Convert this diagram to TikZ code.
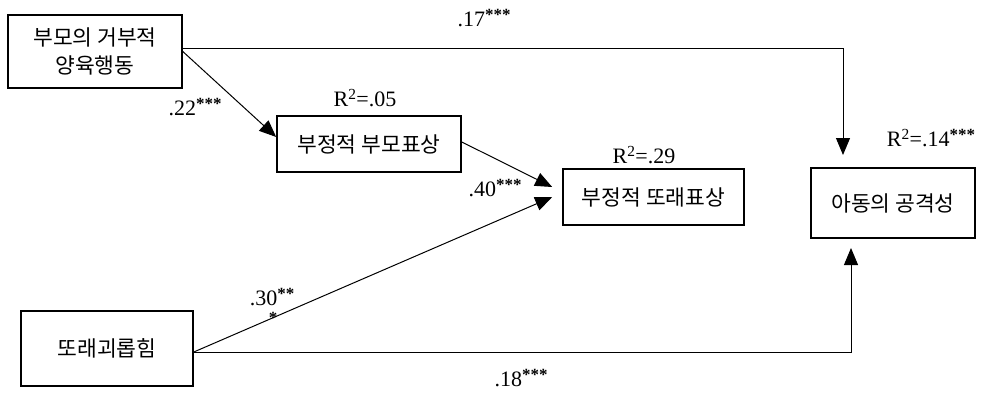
\documentclass[tikz,border=0pt]{standalone}
\usepackage{fontspec}
\setmainfont{Liberation Serif}
\newfontfamily\krfont{Noto Sans CJK KR}
\usetikzlibrary{arrows.meta}
\newcommand{\sig}[1]{\raisebox{0.6ex}{\fontsize{17}{17}\selectfont\bfseries #1}}

\begin{document}
\begin{tikzpicture}[x=1pt, y=-1pt,
            var/.style ={rectangle, draw=black, line width=1.6pt, inner sep=0pt, align=center,
                         font=\krfont\fontsize{21.5}{28}\selectfont},
            coef/.style={inner sep=0pt, font=\fontsize{22}{24}\selectfont},
            arr/.style ={-{Triangle[length=17pt,width=14pt]}, line width=1pt}
        ]
            \useasboundingbox (0,0) rectangle (983,392);

            % variables
            \node[var, minimum width=174pt, minimum height=73pt] (reject) at (95,51.5)  {부모의 거부적\\양육행동};
            \node[var, minimum width=184pt, minimum height=56pt] (negpar) at (369,144)  {부정적 부모표상};
            \node[var, minimum width=181pt, minimum height=56pt] (negpeer) at (653.5,197) {부정적 또래표상};
            \node[var, minimum width=164pt, minimum height=70pt] (aggr)   at (893,203)  {아동의 공격성};
            \node[var, minimum width=172pt, minimum height=75pt] (bully)  at (107,348.5) {또래괴롭힘};

            % free arrow ends
            \coordinate (aggrtop) at (843,155);
            \coordinate (aggrbot) at (851,248);

            % coefficients
            \node[coef] (c17)  at (484,18)   {.17\sig{***}};
            \node[coef] (c22)  at (195,107)  {.22\sig{***}};
            \node[coef] (r05)  at (365,98)   {R\textsuperscript{2}=.05};
            \node[coef] (r29)  at (644,155)  {R\textsuperscript{2}=.29};
            \node[coef] (c40)  at (495,188)  {.40\sig{***}};
            \node[coef] (r14)  at (931,138)  {R\textsuperscript{2}=.14\sig{***}};
            \node[coef] (c30)  at (272,297)  {.30\sig{**}};
            \node[coef] (c30b) at (273,321)  {\sig{*}};
            \node[coef] (c18)  at (521,378)  {.18\sig{***}};

            \draw[arr] ([yshift=3.5pt]reject.east) -| (aggrtop);
            \draw[arr] (reject.east) -- ([yshift=7pt]negpar.west);
            \draw[arr] ([yshift=2pt]negpar.east) -- ([xshift=-10pt,yshift=10pt]negpeer.west);
            \draw[arr] ([yshift=-3.5pt]bully.east) -- ([xshift=-10pt]negpeer.west);
            \draw[arr] ([yshift=-3.5pt]bully.east) -| (aggrbot);
        \end{tikzpicture}
\end{document}
